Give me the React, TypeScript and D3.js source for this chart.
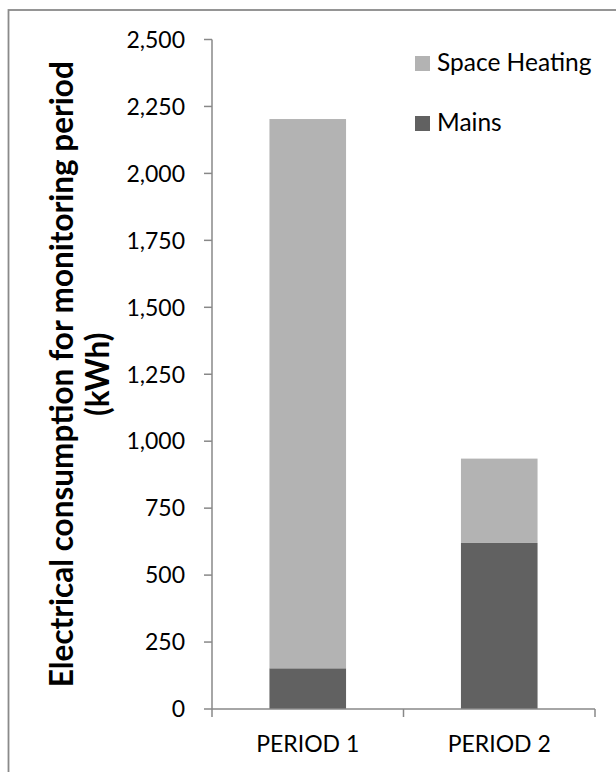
import React from "react";
import * as d3 from "d3";

// Monitoring periods and the electrical consumption (kWh) of each stack part
const periods = ["PERIOD 1", "PERIOD 2"];
const mainsKWh = [152, 620];
const spaceHeatingKWh = [2051, 315];
const yTicks = [0, 250, 500, 750, 1000, 1250, 1500, 1750, 2000, 2250, 2500];
const seriesNames = ["Space Heating", "Mains"];
const seriesColors = ["#b3b3b3", "#616161"];

const W = 616;
const H = 772;
const FONT = "Lato, 'Open Sans', sans-serif";
const AXIS = "#888888";

export default function App() {
  const plotLeft = 212;
  const plotRight = 595;
  const plotTop = 39.5;
  const plotBottom = 709;

  const x = d3.scaleBand<string>().domain(periods).range([plotLeft, plotRight]).padding(0);
  const y = d3.scaleLinear().domain([0, 2500]).range([plotBottom, plotTop]);
  const fmt = d3.format(",");
  const barW = x.bandwidth() * 0.4;

  const stacked = periods.map((p, i) => ({ p, m: mainsKWh[i], s: spaceHeatingKWh[i] }));

  const titleCy = (plotTop + plotBottom) / 2;

  return (
    <svg
      width={W}
      height={H}
      style={{ position: "absolute", left: 0, top: 0, background: "#fff" }}
      fontFamily={FONT}
    >
      {/* chart area frame */}
      <rect x={8.5} y={10} width={W + 20} height={H + 20} fill="#fff" stroke="#8a8a8a" strokeWidth={1.8} />

      {/* bars */}
      {stacked.map((d) => {
        const cx = (x(d.p) as number) + x.bandwidth() / 2;
        return (
          <g key={d.p}>
            <rect
              x={cx - barW / 2}
              y={y(d.m)}
              width={barW}
              height={y(0) - y(d.m)}
              fill={seriesColors[1]}
            />
            <rect
              x={cx - barW / 2}
              y={y(d.m + d.s)}
              width={barW}
              height={y(d.m) - y(d.m + d.s)}
              fill={seriesColors[0]}
            />
          </g>
        );
      })}

      {/* y axis */}
      <line x1={plotLeft} x2={plotLeft} y1={plotTop} y2={plotBottom} stroke={AXIS} strokeWidth={1.5} />
      {yTicks.map((t) => (
        <g key={t}>
          <line x1={plotLeft - 8} x2={plotLeft} y1={y(t)} y2={y(t)} stroke={AXIS} strokeWidth={1.5} />
          <text x={185} y={y(t)} dy="0.36em" textAnchor="end" fontSize={23} fill="#000">
            {fmt(t)}
          </text>
        </g>
      ))}

      {/* x axis */}
      <line x1={plotLeft} x2={plotRight} y1={plotBottom} y2={plotBottom} stroke={AXIS} strokeWidth={1.5} />
      {[plotLeft, ...periods.map((p) => (x(p) as number) + x.bandwidth())].map((tx, i) => (
        <line key={i} x1={tx} x2={tx} y1={plotBottom} y2={plotBottom + 8} stroke={AXIS} strokeWidth={1.5} />
      ))}
      {periods.map((p) => (
        <text
          key={p}
          x={(x(p) as number) + x.bandwidth() / 2}
          y={752}
          textAnchor="middle"
          fontSize={23}
          fill="#000"
        >
          {p}
        </text>
      ))}

      {/* y axis title */}
      <text
        transform={`translate(72.5, ${titleCy}) rotate(-90)`}
        textAnchor="middle"
        fontSize={31.5}
        fontWeight="bold"
        fill="#000"
      >
        Electrical consumption for monitoring period
      </text>
      <text
        transform={`translate(108.5, ${titleCy}) rotate(-90)`}
        textAnchor="middle"
        fontSize={31.5}
        fontWeight="bold"
        fill="#000"
      >
        (kWh)
      </text>

      {/* legend */}
      {seriesNames.map((n, i) => (
        <g key={n} transform={`translate(415, ${56 + i * 60})`}>
          <rect x={0} y={0} width={15} height={15} fill={seriesColors[i]} />
          <text x={22} y={15} fontSize={24.5} fill="#000">
            {n}
          </text>
        </g>
      ))}
    </svg>
  );
}
